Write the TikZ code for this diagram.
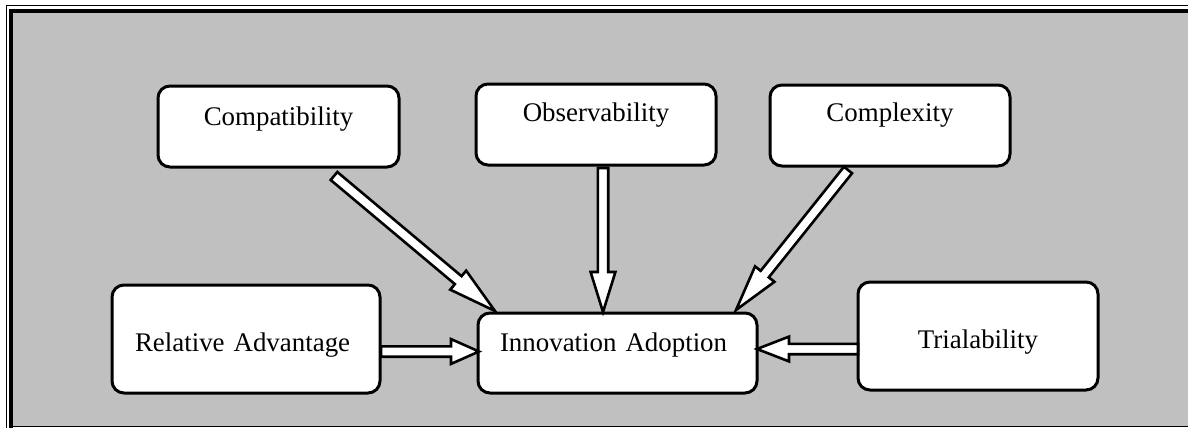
\documentclass[tikz,border=0pt]{standalone}
\usepackage{fontspec}
\setmainfont{Liberation Serif}
\usetikzlibrary{calc}

\definecolor{panel}{HTML}{C0C0C0}
\tikzset{
  factor/.style={draw=black, fill=white, line width=1.5pt, rounded corners=6pt,
    inner sep=0pt, outer sep=0pt, font=\fontsize{13.45}{16}\selectfont},
  blockarrow/.style={draw=black, fill=white, line width=1.3pt, line join=miter}
}

\begin{document}
\begin{tikzpicture}[x=0.5pt,y=-0.5pt]
    \useasboundingbox (0,0) rectangle (1188,428);
    \fill[white] (0,0) rectangle (1188,428);
    % frame
    \fill[panel] (13,12.5) rectangle (1188,425.5);
    \draw[line width=0.75pt] (6.5,428) -- (6.5,5.5) -- (1188,5.5);
    \draw[line width=2pt] (11,428) -- (11,10.5) -- (1188,10.5);
    \draw[line width=0.6pt] (13,426.5) -- (1188,426.5);
    % factors
    \node[factor, minimum width=120.5pt, text height=19.5pt, text depth=21pt] (compat) at (278.5,126.5) {Compatibility};
    \node[factor, minimum width=120pt, text height=18.5pt, text depth=22pt] (observ) at (596,124.5) {Observability};
    \node[factor, minimum width=120pt, text height=18pt, text depth=22.5pt] (complex) at (890,125.5) {Complexity};
    \node[factor, inner xsep=11.5pt, text width=111pt, align=left, text height=33pt, text depth=21pt] (reladv) at (246,339) {Relative Advantage};
    \node[factor, inner xsep=11pt, text width=117.5pt, align=left, text height=19pt, text depth=21pt] (innov) at (617.5,353) {Innovation Adoption};
    \node[factor, minimum width=120pt, text height=33pt, text depth=21pt] (trial) at (978,336) {Trialability};
    % arrow ends
    \coordinate (compat tail) at ($(compat.south)+(55.5,9)$);
    \coordinate (compat tip) at ($(innov.north west)+(17,-2)$);
    \coordinate (observ tail) at ($(observ.south)+(7,3)$);
    \coordinate (observ tip) at ($(innov.north)+(-14.5,-1)$);
    \coordinate (complex tail) at ($(complex.south)+(-42,4)$);
    \coordinate (complex tip) at ($(innov.north east)+(-21,-3)$);
    \coordinate (reladv tail) at ($(reladv.east)+(1,12.5)$);
    \coordinate (reladv tip) at ($(innov.west)+(1,-1.5)$);
    \coordinate (trial tail) at ($(trial.west)+(0,13)$);
    \coordinate (trial tip) at ($(innov.east)+(0,-4)$);
    % block arrows
    \foreach \from/\to/\head in {compat tail/compat tip/24pt, observ tail/observ tip/20pt,
      complex tail/complex tip/23pt, reladv tail/reladv tip/14pt, trial tail/trial tip/16pt} {
    \coordinate (hb) at ($(\to)!\head!(\from)$);
    \draw[blockarrow] ($(\from)!2.6pt!90:(\to)$) -- ($(hb)!2.6pt!90:(\to)$) -- ($(hb)!6.2pt!90:(\to)$)
      -- (\to) -- ($(hb)!6.2pt!-90:(\to)$) -- ($(hb)!2.6pt!-90:(\to)$) -- ($(\from)!2.6pt!-90:(\to)$) -- cycle;
    }
\end{tikzpicture}
\end{document}
